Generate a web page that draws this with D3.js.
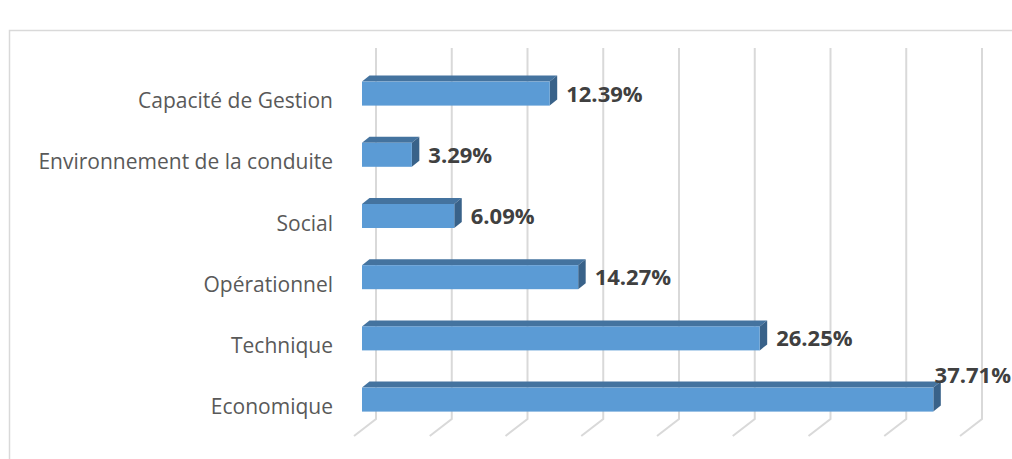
<!DOCTYPE html>
<html>
<head>
<meta charset="utf-8">
<script src="https://cdn.jsdelivr.net/npm/d3@7"></script>
<style>
  body { margin: 0; background: #fff; }
  svg { display: block; }
</style>
</head>
<body>
<svg id="chart" width="1012" height="459"></svg>
<script>
var categories = ["Capacité de Gestion", "Environnement de la conduite", "Social", "Opérationnel", "Technique", "Economique"];
var values = [12.39, 3.29, 6.09, 14.27, 26.25, 37.71];
var ticks = [0, 5, 10, 15, 20, 25, 30, 35, 40];

var svg = d3.select("#chart");

// chart frame
svg.append("rect")
    .attr("x", 9.5).attr("y", 30.5)
    .attr("width", 1100).attr("height", 500)
    .attr("fill", "none")
    .attr("stroke", "#d9d9d9")
    .attr("stroke-width", 1.5);

// back wall scale
var x = d3.scaleLinear().domain([0, 40]).range([376, 982]);
var y = d3.scaleBand().domain(categories).range([63, 430.2]);

var wallTop = 48, wallBottom = 419;
var floorDx = -22, floorDy = 17;
var frontShift = -14;      // bar front relative to wall
var depthDx = 7.5, depthDy = -6;
var barH = 24;

// gridlines + floor
var grid = svg.append("g");
grid.selectAll("path")
    .data(ticks)
    .enter().append("path")
    .attr("d", function(d) {
        return "M" + x(d) + "," + wallTop + "V" + wallBottom +
            "l" + floorDx + "," + floorDy;
    })
    .attr("fill", "none")
    .attr("stroke", "#d9d9d9")
    .attr("stroke-width", 2);

var bars = svg.append("g").selectAll("g")
    .data(categories)
    .enter().append("g");

function fx(v) { return x(v) + frontShift; }
function barTop(c) { return y(c) + y.bandwidth() / 2 - barH / 2; }

// top face
bars.append("path")
    .attr("d", function(c, i) {
        var x0 = fx(0), x1 = fx(values[i]), t = barTop(c);
        return "M" + x0 + "," + t + "L" + (x0 + depthDx) + "," + (t + depthDy) +
            "L" + (x1 + depthDx) + "," + (t + depthDy) + "L" + x1 + "," + t + "Z";
    })
    .attr("fill", "#44739f");

// side face
bars.append("path")
    .attr("d", function(c, i) {
        var x1 = fx(values[i]), t = barTop(c);
        return "M" + x1 + "," + t + "L" + (x1 + depthDx) + "," + (t + depthDy) +
            "L" + (x1 + depthDx) + "," + (t + depthDy + barH) + "L" + x1 + "," + (t + barH) + "Z";
    })
    .attr("fill", "#396289");

// front face
bars.append("rect")
    .attr("x", fx(0))
    .attr("y", function(c) { return barTop(c); })
    .attr("width", function(c, i) { return fx(values[i]) - fx(0); })
    .attr("height", barH)
    .attr("fill", "#5b9bd5");

// category labels
svg.append("g").selectAll("text")
    .data(categories)
    .enter().append("text")
    .attr("x", 333)
    .attr("y", function(c) { return y(c) + y.bandwidth() / 2 + 14.5; })
    .attr("text-anchor", "end")
    .attr("font-family", "Open Sans")
    .attr("font-size", 21)
    .attr("fill", "#595959")
    .text(function(c) { return c; });

// value labels (the one that would run past the edge goes above its bar)
function overflows(i) { return fx(values[i]) + depthDx + 9 + 78 > 1012; }

svg.append("g").selectAll("text")
    .data(categories)
    .enter().append("text")
    .attr("x", function(c, i) {
        return overflows(i) ? 1011 : fx(values[i]) + depthDx + 9;
    })
    .attr("y", function(c, i) {
        return overflows(i) ? barTop(c) - 5 : y(c) + y.bandwidth() / 2 + 8;
    })
    .attr("text-anchor", function(c, i) { return overflows(i) ? "end" : "start"; })
    .attr("font-family", "Open Sans")
    .attr("font-weight", "bold")
    .attr("font-size", 22)
    .attr("fill", "#404040")
    .text(function(c, i) { return values[i].toFixed(2) + "%"; });
</script>
</body>
</html>
